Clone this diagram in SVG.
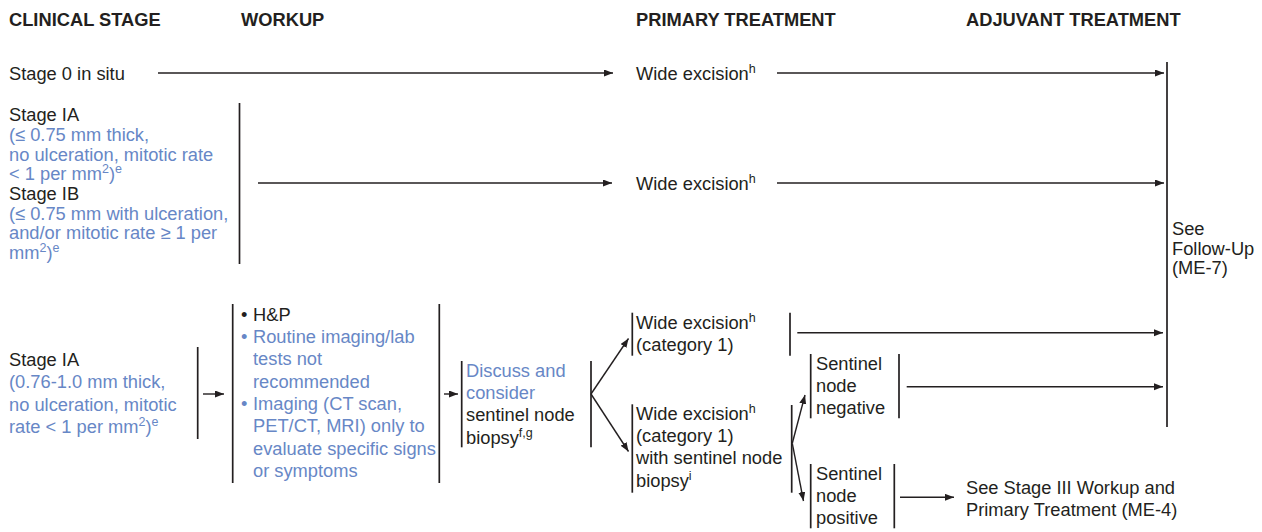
<svg xmlns="http://www.w3.org/2000/svg" width="1262" height="532" viewBox="0 0 1262 532">
<defs>
<style>
text{font-family:"Liberation Sans",Arial,sans-serif;font-size:18.3px;fill:#231f20}
.h{font-weight:bold}
.b{fill:#6787c6}
.sup{font-size:12.5px}
.bar{stroke:#231f20;stroke-width:1.7;fill:none}
.ar{stroke:#231f20;stroke-width:1.4;fill:none;marker-end:url(#ah)}
</style>
<marker id="ah" markerUnits="userSpaceOnUse" markerWidth="10" markerHeight="8" refX="9" refY="3.5" orient="auto">
<path d="M0,0 L9,3.5 L0,7 z" fill="#231f20"/>
</marker>
</defs>
<rect width="1262" height="532" fill="#ffffff"/>

<g id="headers">
<text class="h" x="9" y="25.5">CLINICAL STAGE</text>
<text class="h" x="241" y="25.5">WORKUP</text>
<text class="h" x="636" y="25.5">PRIMARY TREATMENT</text>
<text class="h" x="966" y="25.5">ADJUVANT TREATMENT</text>
</g>

<g id="stage0">
<text x="9" y="79.5">Stage 0 in situ</text>
</g>
<g id="we1">
<text x="636" y="79.5">Wide excision<tspan class="sup" dy="-7">h</tspan></text>
</g>

<g id="stageIA_IB">
<text x="9" y="121.3">Stage IA</text>
<text class="b" x="9" y="141">(≤ 0.75 mm thick,</text>
<text class="b" x="9" y="160.7">no ulceration, mitotic rate</text>
<text class="b" x="9" y="180.4">&lt; 1 per mm<tspan class="sup" dy="-7">2</tspan><tspan dy="7">)</tspan><tspan class="sup" dy="-7">e</tspan></text>
<text x="9" y="200">Stage IB</text>
<text class="b" x="9" y="219.7">(≤ 0.75 mm with ulceration,</text>
<text class="b" x="9" y="239.4">and/or mitotic rate ≥ 1 per</text>
<text class="b" x="9" y="259">mm<tspan class="sup" dy="-7">2</tspan><tspan dy="7">)</tspan><tspan class="sup" dy="-7">e</tspan></text>
<line class="bar" x1="239.5" y1="103" x2="239.5" y2="264"/>
</g>
<g id="we2">
<text x="636" y="189.5">Wide excision<tspan class="sup" dy="-7">h</tspan></text>
</g>

<g id="stageIA2">
<text x="9" y="366">Stage IA</text>
<text class="b" x="9" y="388.3">(0.76-1.0 mm thick,</text>
<text class="b" x="9" y="410.6">no ulceration, mitotic</text>
<text class="b" x="9" y="432.9">rate &lt; 1 per mm<tspan class="sup" dy="-7">2</tspan><tspan dy="7">)</tspan><tspan class="sup" dy="-7">e</tspan></text>
<line class="bar" x1="197.7" y1="347" x2="197.7" y2="439"/>
</g>

<g id="workup">
<line class="bar" x1="232.7" y1="304" x2="232.7" y2="483"/>
<line class="bar" x1="439.3" y1="304" x2="439.3" y2="483"/>
<text x="241" y="320.7">•</text>
<text x="253" y="320.7">H&amp;P</text>
<text class="b" x="241" y="343">•</text>
<text class="b" x="253" y="343">Routine imaging/lab</text>
<text class="b" x="253" y="365.3">tests not</text>
<text class="b" x="253" y="387.6">recommended</text>
<text class="b" x="241" y="409.9">•</text>
<text class="b" x="253" y="409.9">Imaging (CT scan,</text>
<text class="b" x="253" y="432.2">PET/CT, MRI) only to</text>
<text class="b" x="253" y="454.5">evaluate specific signs</text>
<text class="b" x="253" y="476.8">or symptoms</text>
</g>

<g id="discuss">
<line class="bar" x1="461.7" y1="361" x2="461.7" y2="447.3"/>
<line class="bar" x1="591" y1="361" x2="591" y2="447.3"/>
<text class="b" x="466" y="376.7">Discuss and</text>
<text class="b" x="466" y="399">consider</text>
<text x="466" y="421.3">sentinel node</text>
<text x="466" y="443.6">biopsy<tspan class="sup" dy="-7">f,g</tspan></text>
</g>

<g id="we3">
<line class="bar" x1="632.3" y1="312.7" x2="632.3" y2="355.7"/>
<line class="bar" x1="790" y1="312.7" x2="790" y2="355.7"/>
<text x="636" y="328.5">Wide excision<tspan class="sup" dy="-7">h</tspan></text>
<text x="636" y="350.8">(category 1)</text>
</g>

<g id="we4">
<line class="bar" x1="632.3" y1="404.3" x2="632.3" y2="492.7"/>
<line class="bar" x1="791.7" y1="405" x2="791.7" y2="492.7"/>
<text x="636" y="419.6">Wide excision<tspan class="sup" dy="-7">h</tspan></text>
<text x="636" y="441.9">(category 1)</text>
<text x="636" y="464.2">with sentinel node</text>
<text x="636" y="486.5">biopsy<tspan class="sup" dy="-7">i</tspan></text>
</g>

<g id="sln_neg">
<line class="bar" x1="810.7" y1="354" x2="810.7" y2="418.3"/>
<line class="bar" x1="899" y1="354" x2="899" y2="418.3"/>
<text x="816" y="369.5">Sentinel</text>
<text x="816" y="391.8">node</text>
<text x="816" y="414.1">negative</text>
</g>

<g id="sln_pos">
<line class="bar" x1="810.7" y1="464" x2="810.7" y2="528.3"/>
<line class="bar" x1="894.3" y1="464" x2="894.3" y2="528.3"/>
<text x="816" y="479.5">Sentinel</text>
<text x="816" y="501.8">node</text>
<text x="816" y="524.1">positive</text>
</g>

<g id="stage3">
<text x="966" y="493.5">See Stage III Workup and</text>
<text x="966" y="515.8">Primary Treatment (ME-4)</text>
</g>

<g id="followup">
<line class="bar" x1="1167" y1="62" x2="1167" y2="427"/>
<text x="1172" y="235">See</text>
<text x="1172" y="254.7">Follow-Up</text>
<text x="1172" y="274.4">(ME-7)</text>
</g>

<g id="connectors">
<line class="ar" x1="158" y1="73" x2="613" y2="73"/>
<line class="ar" x1="777" y1="73" x2="1164" y2="73"/>
<line class="ar" x1="258" y1="183" x2="612" y2="183"/>
<line class="ar" x1="777" y1="183" x2="1164" y2="183"/>
<line class="ar" x1="203" y1="394" x2="224" y2="394"/>
<line class="ar" x1="444" y1="394" x2="458" y2="394"/>
<line class="ar" x1="591" y1="394" x2="628.5" y2="338.5"/>
<line class="ar" x1="591" y1="394" x2="628.5" y2="451.5"/>
<line class="ar" x1="797.3" y1="332.7" x2="1163" y2="332.7"/>
<line class="ar" x1="792.3" y1="443.3" x2="805" y2="395"/>
<line class="ar" x1="792.3" y1="443.3" x2="803.5" y2="501"/>
<line class="ar" x1="906.7" y1="386.7" x2="1163" y2="386.7"/>
<line class="ar" x1="900" y1="497.3" x2="954" y2="497.3"/>
</g>
</svg>
